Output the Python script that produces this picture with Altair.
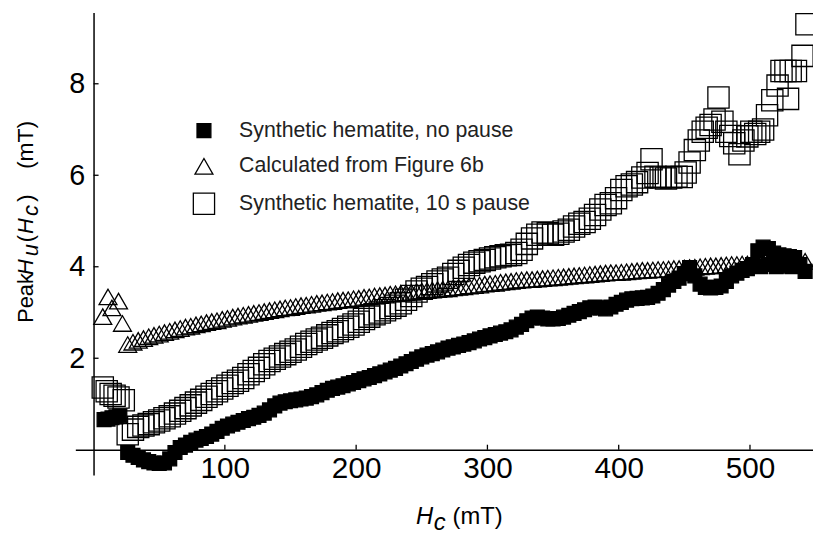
import altair as alt
import pandas as pd

# ---------------- data ----------------
SERIES = ["Synthetic hematite, no pause",
          "Calculated from Figure 6b",
          "Synthetic hematite, 10 s pause"]

GRID_H = [26, 30, 34, 38, 42, 46, 50, 54, 58, 62,
          66, 70, 74, 78, 82, 86, 90, 94, 98, 102,
          106, 110, 114, 118, 122, 126, 130, 134, 138, 142,
          146, 150, 154, 158, 162, 166, 170, 174, 178, 182,
          186, 190, 194, 198, 202, 206, 210, 214, 218, 222,
          226, 230, 234, 238, 242, 246, 250, 254, 258, 262,
          266, 270, 274, 278, 282, 286, 290, 294, 298, 302,
          306, 310, 314, 318, 322, 326, 330, 334, 338, 342,
          346, 350, 354, 358, 362, 366, 370, 374, 378, 382,
          386, 390, 394, 398, 402, 406, 410, 414, 418, 422,
          426, 430, 434, 438, 442, 446, 450, 454, 458, 462,
          466, 470, 474, 478, 482, 486, 490, 494, 498, 502,
          506, 510, 514, 518, 522, 526, 530, 534, 538, 542]

# Calculated from Figure 6b (triangles)
TRI_LEFT_H = [7, 11, 14, 19, 22]
TRI_LEFT_V = [2.91, 3.34, 3.10, 3.25, 2.76]
TRI_V = [2.30, 2.35, 2.39, 2.43, 2.47, 2.50, 2.53, 2.56, 2.59, 2.62,
         2.65, 2.68, 2.70, 2.73, 2.75, 2.78, 2.80, 2.82, 2.85, 2.87,
         2.90, 2.92, 2.94, 2.96, 2.98, 3.00, 3.02, 3.04, 3.06, 3.08,
         3.10, 3.11, 3.13, 3.15, 3.16, 3.18, 3.20, 3.21, 3.23, 3.24,
         3.26, 3.27, 3.28, 3.30, 3.31, 3.33, 3.34, 3.36, 3.37, 3.38,
         3.40, 3.41, 3.42, 3.43, 3.44, 3.46, 3.47, 3.48, 3.49, 3.50,
         3.51, 3.52, 3.54, 3.55, 3.56, 3.58, 3.59, 3.60, 3.62, 3.63,
         3.64, 3.66, 3.67, 3.68, 3.70, 3.71, 3.72, 3.72, 3.73, 3.74,
         3.75, 3.76, 3.77, 3.78, 3.79, 3.80, 3.81, 3.82, 3.83, 3.84,
         3.85, 3.86, 3.87, 3.87, 3.88, 3.89, 3.90, 3.91, 3.92, 3.92,
         3.93, 3.94, 3.94, 3.95, 3.96, 3.96, 3.97, 3.98, 3.99, 4.00,
         4.01, 4.02, 4.02, 4.03, 4.04, 4.05, 4.05, 4.06, 4.06, 4.07,
         4.08, 4.09, 4.09, 4.10, 4.11, 4.11, 4.12, 4.12, 4.12, 4.12]

# Synthetic hematite, no pause (filled squares)
FILLED_LEFT_H = [8, 11, 14, 17, 20]
FILLED_LEFT_V = [0.66, 0.67, 0.70, 0.72, 0.74]
FILLED_V = [-0.06, -0.12, -0.17, -0.22, -0.26, -0.29, -0.30, -0.29, -0.20, -0.06,
            0.05, 0.10, 0.16, 0.21, 0.25, 0.29, 0.34, 0.40, 0.47, 0.52,
            0.56, 0.60, 0.64, 0.68, 0.71, 0.75, 0.80, 0.87, 0.96, 1.02,
            1.05, 1.07, 1.09, 1.11, 1.13, 1.16, 1.20, 1.25, 1.30, 1.34,
            1.37, 1.40, 1.44, 1.47, 1.51, 1.55, 1.58, 1.62, 1.66, 1.70,
            1.74, 1.78, 1.83, 1.88, 1.93, 1.98, 2.03, 2.07, 2.10, 2.14,
            2.18, 2.22, 2.25, 2.28, 2.31, 2.34, 2.38, 2.42, 2.45, 2.49,
            2.52, 2.55, 2.58, 2.62, 2.68, 2.74, 2.82, 2.88, 2.90, 2.88,
            2.86, 2.86, 2.87, 2.90, 2.94, 2.98, 3.02, 3.06, 3.10, 3.12,
            3.10, 3.08, 3.12, 3.18, 3.22, 3.27, 3.30, 3.31, 3.32, 3.33,
            3.36, 3.42, 3.50, 3.60, 3.68, 3.75, 3.85, 3.98, 3.80, 3.62,
            3.55, 3.54, 3.55, 3.58, 3.68, 3.80, 3.86, 3.92, 3.96, 4.05,
            4.35, 4.43, 4.40, 4.30, 4.26, 4.24, 4.22, 4.20, 4.05, 3.90]
FILLED_RIGHT_H = [508, 514, 520, 526, 532]
FILLED_RIGHT_V = [4.00, 4.05, 4.00, 4.02, 4.00]

# Synthetic hematite, 10 s pause (open squares)
OPEN_LEFT_H = [7, 10, 13, 16, 19, 23]
OPEN_LEFT_V = [1.36, 1.28, 1.22, 1.18, 1.14, 1.08]
OPEN_V = [0.34, 0.44, 0.50, 0.53, 0.56, 0.60, 0.64, 0.69, 0.73, 0.79,
          0.85, 0.91, 0.97, 1.03, 1.09, 1.16, 1.22, 1.28, 1.34, 1.40,
          1.46, 1.51, 1.57, 1.65, 1.72, 1.79, 1.87, 1.94, 1.99, 2.04,
          2.09, 2.14, 2.19, 2.25, 2.31, 2.36, 2.41, 2.45, 2.50, 2.55,
          2.59, 2.64, 2.69, 2.74, 2.80, 2.86, 2.91, 2.96, 3.00, 3.05,
          3.10, 3.15, 3.20, 3.28, 3.36, 3.46, 3.52, 3.56, 3.62, 3.68,
          3.72, 3.76, 3.84, 3.91, 3.98, 4.04, 4.09, 4.12, 4.15, 4.18,
          4.21, 4.23, 4.25, 4.26, 4.30, 4.37, 4.50, 4.62, 4.70, 4.75,
          4.73, 4.70, 4.72, 4.77, 4.81, 4.88, 4.94, 4.98, 5.05, 5.13,
          5.25, 5.35, 5.39, 5.50, 5.68, 5.76, 5.80, 5.85, 5.95, 6.05]
OPEN_RIGHT_H = [425, 428, 432, 436, 440, 444, 448, 451, 454, 458,
                461, 464, 467, 470, 473, 476, 479, 482, 485, 488,
                492, 495, 498, 501, 504, 507, 510, 513, 517, 521,
                524, 527, 529, 531, 535, 540, 543]
OPEN_RIGHT_V = [6.35, 5.97, 5.95, 5.93, 5.95, 5.97, 5.96, 6.06, 6.28, 6.55,
                6.76, 6.95, 7.04, 7.10, 7.22, 7.70, 7.17, 6.95, 6.86, 6.70,
                6.46, 6.76, 6.85, 6.95, 6.90, 6.95, 7.00, 7.31, 7.64, 7.96,
                8.28, 8.28, 7.67, 8.28, 8.28, 8.61, 9.30]

X_TICKS = [100, 200, 300, 400, 500]
Y_TICKS = [2, 4, 6, 8]

# ---------------- table ----------------
tri_h = TRI_LEFT_H + GRID_H
tri_v = TRI_LEFT_V + TRI_V
open_h = OPEN_LEFT_H + GRID_H[:len(OPEN_V)] + OPEN_RIGHT_H
open_v = OPEN_LEFT_V + OPEN_V + OPEN_RIGHT_V
fil_h = FILLED_LEFT_H + GRID_H + FILLED_RIGHT_H
fil_v = FILLED_LEFT_V + FILLED_V + FILLED_RIGHT_V

df = pd.concat([
    pd.DataFrame({"H": tri_h, "V": tri_v, "series": SERIES[1]}),
    pd.DataFrame({"H": open_h, "V": open_v, "series": SERIES[2]}),
    pd.DataFrame({"H": fil_h, "V": fil_v, "series": SERIES[0]}),
], ignore_index=True)

# ---------------- layout / style ----------------
FONT = "Liberation Sans"
W, H = 745, 467
X_DOMAIN = [-13.9, 548.0]
Y_DOMAIN = [-0.552, 9.556]
xs = alt.Scale(domain=X_DOMAIN, nice=False, zero=False)
ys = alt.Scale(domain=Y_DOMAIN, nice=False, zero=False)

leg = alt.Legend(title=None, orient="none", legendX=118.4, legendY=108.5,
                 direction="vertical", padding=0, rowPadding=13,
                 labelFont=FONT, labelFontSize=21.5, labelColor="#222",
                 labelOffset=24, labelLimit=500,
                 symbolStrokeWidth=1.3, symbolOpacity=1)

x_axis = alt.Axis(values=X_TICKS, offset=-25.5, ticks=False, tickSize=0,
                  labelFont=FONT, labelFontSize=30, labelColor="black",
                  labelPadding=4, domainColor="black", domainWidth=1.5,
                  grid=False, labelFlush=False, labelOverlap=False)
y_axis = alt.Axis(values=Y_TICKS, offset=-18.4, ticks=False, tickSize=0,
                  labelFont=FONT, labelFontSize=29, labelColor="black",
                  labelPadding=9, domainColor="black", domainWidth=1.5,
                  grid=False, labelFlush=False, labelOverlap=False)

points = alt.Chart(df).mark_point(strokeWidth=1.3, opacity=1).encode(
    x=alt.X("H:Q", scale=xs, axis=x_axis, title=None),
    y=alt.Y("V:Q", scale=ys, axis=y_axis, title=None),
    shape=alt.Shape("series:N", scale=alt.Scale(domain=SERIES, range=["square", "triangle-up", "square"]), legend=leg),
    fill=alt.Fill("series:N", scale=alt.Scale(domain=SERIES, range=["black", "transparent", "transparent"]), legend=leg),
    stroke=alt.Stroke("series:N", scale=alt.Scale(domain=SERIES, range=["black", "black", "black"]), legend=leg),
    size=alt.Size("series:N", scale=alt.Scale(domain=SERIES, range=[196, 460, 196]), legend=leg),
)

xticks = alt.Chart(pd.DataFrame({"H": X_TICKS})).mark_rule(color="black", strokeWidth=1.3).encode(
    x=alt.X("H:Q", scale=xs, title=None),
    y=alt.YDatum(0, scale=ys, title=None),
    y2=alt.Y2Datum(0.11),
)
yticks = alt.Chart(pd.DataFrame({"V": Y_TICKS})).mark_rule(color="black", strokeWidth=1.3).encode(
    y=alt.Y("V:Q", scale=ys, title=None),
    x=alt.XDatum(0, scale=xs, title=None),
    x2=alt.X2Datum(3.8),
)

ONE = pd.DataFrame({"k": [0]})


def txt(t, x, y, size, italic=False, angle=0):
    return alt.Chart(ONE).mark_text(
        text=t, align="left", baseline="alphabetic", font=FONT, fontSize=size,
        fontStyle="italic" if italic else "normal", angle=angle, color="black"
    ).encode(x=alt.value(x), y=alt.value(y))


titles = [
    # x-axis title  H_c (mT)
    txt("H", 344, 516, 24, italic=True),
    txt("c", 362, 523, 24, italic=True),
    txt("(mT)", 381, 516, 24),
    # y-axis title  Peak H_u(H_c)  (mT)
    txt("Peak", -43, 313.3, 22, angle=270),
    txt("H", -43, 265, 22, italic=True, angle=270),
    txt("u", -37.7, 246, 22, italic=True, angle=270),
    txt("(", -43, 232, 22, angle=270),
    txt("H", -43, 223.5, 22, italic=True, angle=270),
    txt("c", -37.7, 205.5, 22, italic=True, angle=270),
    txt(")", -43, 191, 22, angle=270),
    txt("(mT)", -43, 158, 23, angle=270),
]

chart = alt.layer(points, xticks, yticks, *titles).properties(
    width=W, height=H,
    autosize=alt.AutoSizeParams(type="none"),
    padding={"left": 68, "top": 2, "right": 0, "bottom": 62},
).configure_view(strokeWidth=0)

chart.save("out.html", embed_options={"renderer": "svg", "actions": False})
